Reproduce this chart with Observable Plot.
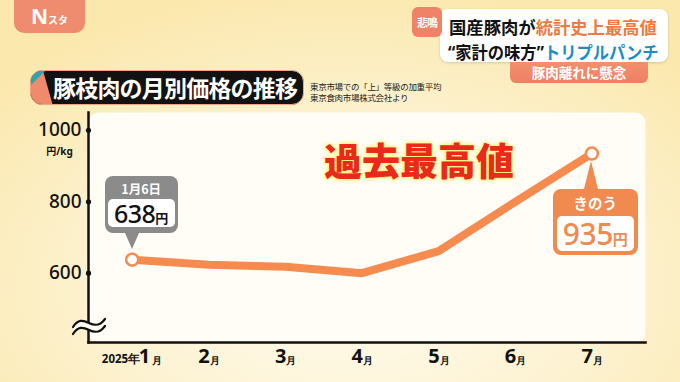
<!DOCTYPE html>
<html><head><meta charset="utf-8">
<script src="https://cdn.jsdelivr.net/npm/d3@7"></script>
<script src="https://cdn.jsdelivr.net/npm/@observablehq/plot@0.6"></script>
<style>
body{margin:0;}
#wrap{position:relative;width:680px;height:382px;overflow:hidden;font-family:"Noto Sans CJK JP","Noto Sans",sans-serif;
 background: radial-gradient(ellipse 70% 80% at 52% 75%, #fffbee 0%, #fdf3d3 50%, #fbe8ad 100%);}
#wrap > svg{position:absolute;left:0;top:0;}
.abs{position:absolute;}
.nsta{left:14px;top:-12px;width:71px;height:45px;background:#ef8b6f;border-radius:10px;color:#fff;text-align:center;line-height:45px;padding-top:6px;box-sizing:border-box;}
.nsta b{font-family:"Noto Sans",sans-serif;font-size:21px;font-weight:700;}
.nsta span{font-size:10px;font-weight:700;}
.hbox{left:440px;top:9px;width:228px;height:53px;background:#fff;border-radius:8px;box-shadow:0 1px 3px rgba(0,0,0,.15);}
.hline{position:absolute;white-space:nowrap;font-weight:700;font-size:17px;line-height:17px;transform-origin:0 0;}
.q{font-family:"Noto Sans",sans-serif;font-weight:700;}
.badge{left:412px;top:7px;width:30px;height:30px;background:#ef8368;border-radius:6px;color:#fff;font-size:11px;font-weight:700;text-align:center;line-height:30px;letter-spacing:-1px;}
.obar{left:510px;top:62px;width:138px;height:21px;background:linear-gradient(#f3906e,#ee7f63);border-radius:0 0 6px 6px;color:#fff;font-size:13.5px;font-weight:700;text-align:center;line-height:21px;}
.title{left:30px;top:70px;width:274px;height:35px;background:#121212;border-radius:12px;border:1.5px solid #f2a585;box-sizing:border-box;overflow:hidden;}
.title .acc{position:absolute;left:0;top:0;width:22px;height:35px;background:#f08a6c;clip-path:polygon(0 0,55% 0,100% 100%,0 100%);}
.title .tri{position:absolute;left:0;top:0;width:14px;height:14px;background:#2aa6b0;clip-path:polygon(0 0,100% 0,0 100%);}
.title .tx{position:absolute;left:22px;top:0;line-height:33px;color:#fff;font-size:23px;font-weight:700;letter-spacing:-0.8px;white-space:nowrap;}
.src{left:310px;top:81px;font-size:8.5px;line-height:11px;color:#222;white-space:nowrap;letter-spacing:-0.3px;}
.big{left:324px;top:137px;font-size:38px;font-weight:900;color:#e8291c;white-space:nowrap;line-height:44px;
 text-shadow:0 0 3px #fff27a,0 0 3px #fff27a,0 0 4px #fff6a0,0 0 5px #fff6a0;}
.call{position:absolute;border-radius:8px;text-align:center;}
.call .hd{color:#fff;font-weight:700;}
.call .in{position:absolute;background:#fff;border-radius:5px;white-space:nowrap;}
.ptr{position:absolute;width:0;height:0;}
</style></head>
<body><div id="wrap"></div>
<script>
const months = [1, 2, 3, 4, 5, 6, 7];
const prices = [638, 624, 618, 600, 662, 800, 935];
const yTicks = [600, 800, 1000];
const monthNums = ["1", "2", "3", "4", "5", "6", "7"];
const yearLabel = "2025年";
const unitLabel = "円/kg";
const firstNote = {date: "1月6日", value: 638, month: 1};
const lastNote = {date: "きのう", value: 935, month: 7};

const data = months.map((m, i) => ({month: m, price: prices[i]}));
const ends = [data[0], data[data.length - 1]];
const orange = "#f68b50";
const panel = "#fffdf5";
const numFont = "'Noto Sans', 'Noto Sans CJK JP', sans-serif";

const chart = Plot.plot({
  width: 680, height: 382,
  marginLeft: 88, marginRight: 35, marginTop: 112, marginBottom: 40,
  x: {type: "linear", domain: [0.43, 7.7], axis: null},
  y: {domain: [406, 1050], axis: null},
  style: {background: "transparent", overflow: "visible"},
  marks: [
    Plot.frame({fill: panel, stroke: null, rx: 10}),
    Plot.frame({anchor: "left", stroke: "#111", strokeWidth: 2.5}),
    Plot.frame({anchor: "bottom", stroke: "#111", strokeWidth: 2.5}),
    Plot.dot(yTicks, {y: d => d, frameAnchor: "left", r: 2.6, fill: "#111"}),
    Plot.text(yTicks, {y: d => d, text: d => String(d), frameAnchor: "left", textAnchor: "end", dx: -7, dy: 0, fontSize: 19, fontWeight: 500, fill: "#111", fontFamily: numFont}),
    Plot.text([unitLabel], {y: yTicks[yTicks.length - 1], text: d => d, frameAnchor: "left", textAnchor: "middle", dx: -29, dy: 21, fontSize: 10, fontWeight: 700, fill: "#111", fontFamily: numFont}),
    Plot.line(data, {x: "month", y: "price", stroke: orange, strokeWidth: 8, strokeLinejoin: "round", strokeLinecap: "round"}),
    Plot.dot(ends, {x: "month", y: "price", r: 6, fill: "#fff", stroke: orange, strokeWidth: 2.5}),
    Plot.text(months.slice(1), {x: d => d, text: d => monthNums[d - 1], frameAnchor: "bottom", textAnchor: "end", dx: 1, dy: 20, fontSize: 20, fontWeight: 700, fill: "#111", fontFamily: numFont}),
    Plot.text(months.slice(1), {x: d => d, text: () => "月", frameAnchor: "bottom", textAnchor: "start", dx: 1, dy: 21, fontSize: 10, fontWeight: 700, fill: "#111"}),
    Plot.text([months[0]], {x: d => d, text: d => monthNums[d - 1], frameAnchor: "bottom", textAnchor: "end", dx: 18, dy: 20, fontSize: 20, fontWeight: 700, fill: "#111", fontFamily: numFont}),
    Plot.text([months[0]], {x: d => d, text: () => "月", frameAnchor: "bottom", textAnchor: "start", dx: 20, dy: 21, fontSize: 10, fontWeight: 700, fill: "#111"}),
    Plot.text([months[0]], {x: d => d, text: () => yearLabel, frameAnchor: "bottom", textAnchor: "end", dx: 8, dy: 20, fontSize: 11.5, fontWeight: 700, fill: "#111"})
  ]
});

const wrap = document.getElementById("wrap");
wrap.appendChild(chart);

function el(cls, html, style) {
  const d = document.createElement("div");
  d.className = cls; if (html != null) d.innerHTML = html;
  if (style) Object.assign(d.style, style);
  wrap.appendChild(d); return d;
}
el("abs nsta", "<b>N</b><span>スタ</span>");
el("abs hbox", `<div class="hline" style="left:9px;top:9px;font-size:17.5px;transform:scaleX(0.99)"><span style="color:#111">国産豚肉が</span><span style="color:#f07a40">統計史上最高値</span></div>
<div class="hline" style="left:8px;top:34px;font-size:17.5px;transform:scaleX(0.93)"><span style="color:#111"><span class="q">“</span>家計の味方<span class="q">”</span></span><span style="color:#1f8bc6">トリプルパンチ</span></div>`);
el("abs badge", "悲鳴");
el("abs obar", "豚肉離れに懸念");
el("abs title", `<div class="acc"></div><div class="tri"></div><div class="tx">豚枝肉の月別価格の推移</div>`);
el("abs src", "東京市場での「上」等級の加重平均<br>東京食肉市場株式会社より");
el("abs big", "過去最高値");

const sx = chart.scale("x"), sy = chart.scale("y");
// axis break symbol on the y axis, near its bottom
{
  const ax = sx.range[0], ay = sy.range[0];
  const ns = "http://www.w3.org/2000/svg";
  const s = document.createElementNS(ns, "svg");
  s.setAttribute("width", 40); s.setAttribute("height", 20);
  Object.assign(s.style, {position: "absolute", left: (ax - 17) + "px", top: (ay - 26) + "px"});
  s.innerHTML = `<path d="M2,12 C7,4 12,4 18,8 S29,11 34,4 L34,10 C29,17 24,15 18,13 S7,11 2,18 Z" fill="${panel}"/>
  <path d="M2,11 C7,3 12,4 18,7 S29,10 34,3" fill="none" stroke="#111" stroke-width="2.2" stroke-linecap="round"/>
  <path d="M2,18 C7,10 12,11 18,14 S29,17 34,10" fill="none" stroke="#111" stroke-width="2.2" stroke-linecap="round"/>`;
  wrap.appendChild(s);
}
// first callout (gray, above point)
{
  const px = sx.apply(firstNote.month), py = sy.apply(firstNote.value);
  const w = 73, h = 57, left = px + 9.5 - w / 2, top = py - 26 - h;
  const c = el("call", null, {left: left + "px", top: top + "px", width: w + "px", height: h + "px", background: "#8b8b8b"});
  c.innerHTML = `<div class="hd" style="font-size:12.5px;line-height:14px;padding-top:6px">${firstNote.date}</div>
  <div class="in" style="left:3px;right:3px;top:23px;height:28px;line-height:28px;color:#111"><span style="font-family:${numFont};font-size:25px;font-weight:500;letter-spacing:-0.5px">${firstNote.value}</span><span style="font-size:13px;font-weight:700">円</span></div>`;
  el("ptr", null, {left: (px - 7) + "px", top: (py - 26.5) + "px", borderLeft: "7px solid transparent", borderRight: "7px solid transparent", borderTop: "16px solid #8b8b8b"});
}
// last callout (orange, below point)
{
  const px = sx.apply(lastNote.month), py = sy.apply(lastNote.value);
  const w = 85, h = 66, left = px + 4 - w / 2, top = py + 36;
  el("ptr", null, {left: (px - 7) + "px", top: (py + 8) + "px", borderLeft: "7px solid transparent", borderRight: "7px solid transparent", borderBottom: "28.5px solid #f08a4f"});
  const c = el("call", null, {left: left + "px", top: top + "px", width: w + "px", height: h + "px", background: "#f08a4f"});
  c.innerHTML = `<div class="hd" style="font-size:14.5px;line-height:16px;padding-top:6px">${lastNote.date}</div>
  <div class="in" style="left:4px;right:4px;top:27px;height:35px;line-height:35px;color:#f08a4f"><span style="font-family:${numFont};font-size:30px;font-weight:500;letter-spacing:-0.5px">${lastNote.value}</span><span style="font-size:15px;font-weight:700">円</span></div>`;
}
</script>
</body></html>
